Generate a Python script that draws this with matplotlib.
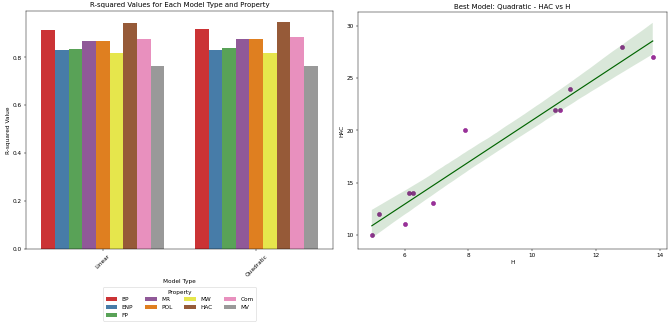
import matplotlib
matplotlib.use("Agg")
from matplotlib import pyplot as plt
import numpy as np
import pandas as pd
import seaborn as sns

# R-squared per model type and property
model_types = ["Linear", "Quadratic"]
properties = ["BP", "ENP", "FP", "MR", "POL", "MW", "HAC", "Com", "MV"]
r2_linear = [0.916, 0.830, 0.835, 0.867, 0.867, 0.817, 0.943, 0.876, 0.763]
r2_quadratic = [0.918, 0.830, 0.841, 0.878, 0.878, 0.817, 0.948, 0.884, 0.763]

# best model data: HAC vs H
h_values = [4.97, 5.19, 6.00, 6.13, 6.27, 6.90, 7.90, 10.71, 10.88, 11.18, 12.81, 13.78]
hac_values = [10, 12, 11, 14, 14, 13, 20, 22, 22, 24, 28, 27]

rows = []
for m, vals in zip(model_types, [r2_linear, r2_quadratic]):
    for p, v in zip(properties, vals):
        rows.append({"Model Type": m, "Property": p, "R-squared": v})
df = pd.DataFrame(rows)

fig = plt.figure(figsize=(16, 7.85), dpi=41.8)
ax1 = fig.add_axes([0.039, 0.241, 0.459, 0.726])
ax2 = fig.add_axes([0.535, 0.241, 0.462, 0.722])

sns.barplot(data=df, x="Model Type", y="R-squared", hue="Property",
            palette="Set1", ax=ax1)
ax1.set_title("R-squared Values for Each Model Type and Property")
ax1.set_ylabel("R-squared Value")
ax1.set_xlabel("Model Type")
for lbl in ax1.get_xticklabels():
    lbl.set_rotation(45)
ax1.legend(title="Property", loc="upper center", bbox_to_anchor=(0.5, -0.148), ncol=4)

sns.regplot(x=np.array(h_values), y=np.array(hac_values), ax=ax2, seed=0,
            scatter_kws={"color": "purple", "s": 50},
            line_kws={"color": "darkgreen", "lw": 2},
            color="darkgreen")
ax2.set_title("Best Model: Quadratic - HAC vs H")
ax2.set_xlabel("H")
ax2.set_ylabel("HAC")

fig.savefig("out.png", dpi=41.8)
